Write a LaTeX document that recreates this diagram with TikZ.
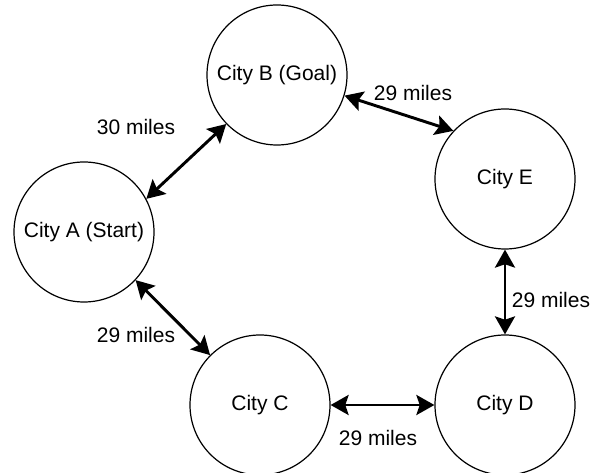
\documentclass[tikz,border=0pt]{standalone}
\usepackage{fontspec}
\setmainfont{Liberation Sans}
\usetikzlibrary{arrows.meta}
\begin{document}
\begin{tikzpicture}[x=0.75pt,y=-0.75pt,font=\fontsize{15.75}{18}\selectfont]
  \tikzstyle{city node}=[circle,draw,line width=0.9pt,minimum size=105pt,inner sep=0]
  \tikzstyle{road tip}=[Stealth[length=13.5pt,width=15pt,inset=2.5pt]]
  \tikzstyle{road}=[{Stealth[length=13.5pt,width=15pt,inset=2.5pt]}-{Stealth[length=13.5pt,width=15pt,inset=2.5pt]},line width=2.2pt]
  \useasboundingbox (0,0) rectangle (597,473);
  % cities
  \node(a)[city node] at (84,232){City A (Start)};
  \node(b)[city node] at (277,75){City B (Goal)};
  \node(e)[city node] at (505,179){City E};
  \node(d)[city node] at (505,405){City D};
  \node(c)[city node] at (260,405){City C};
  % roads
  \draw[road] (a.28) -- (b.224);
  \draw[road] (b.343) -- (e.137);
  \draw[road] (e.270) -- (d.90);
  \draw[road] (c.0) -- (d.180);
  \draw[road] (a.317) -- (c.135);
  % distances
  \node(ab) at (136,127){30 miles};
  \node(be) at (413,93){29 miles};
  \node(ed) at (551,300){29 miles};
  \node(ac) at (136,335){29 miles};
  \node(cd) at (378,438){29 miles};
\end{tikzpicture}
\end{document}
